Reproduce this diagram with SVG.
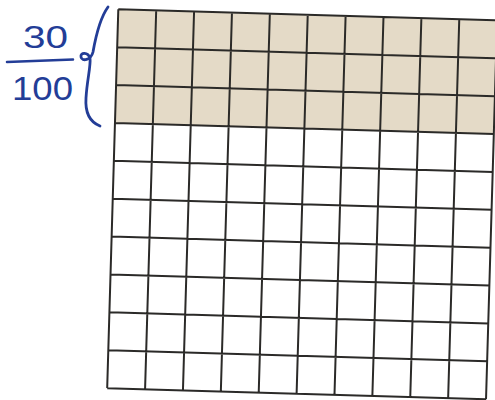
<svg xmlns="http://www.w3.org/2000/svg" width="495" height="400" viewBox="0 0 495 400">
<style>
.g{stroke:#2b2a28;stroke-width:2;fill:none}
.ink{fill:#233d97;font-family:"Liberation Sans",Arial,sans-serif}
</style>
<rect width="495" height="400" fill="#ffffff"/>
<g id="grid" transform="translate(118.3,9.3) rotate(1.68)">
<rect x="0" y="0" width="379" height="113.7" fill="#e4dac7"/>
<path class="g" d="M0,0V379M37.9,0V379M75.8,0V379M113.7,0V379M151.6,0V379M189.5,0V379M227.4,0V379M265.3,0V379M303.2,0V379M341.1,0V379M379,0V379M0,0H379M0,37.9H379M0,75.8H379M0,113.7H379M0,151.6H379M0,189.5H379M0,227.4H379M0,265.3H379M0,303.2H379M0,341.1H379M0,379H379"/>
</g>
<g id="fraction">
<text class="ink" x="23" y="48" font-size="32" textLength="45" lengthAdjust="spacingAndGlyphs">30</text>
<path d="M7,62 L73,59.5" stroke="#233d97" stroke-width="2.5" fill="none" stroke-linecap="round"/>
<text class="ink" x="12" y="100" font-size="33" textLength="61" lengthAdjust="spacingAndGlyphs">100</text>
<path d="M108,7 C100,18 96,35 93,52 C91,60 82,62 81,57 C80,52 88,52 90,58 C91,66 87,80 86,98 C85,112 90,122 100,126" stroke="#233d97" stroke-width="2.8" fill="none" stroke-linecap="round"/>
</g>
</svg>
